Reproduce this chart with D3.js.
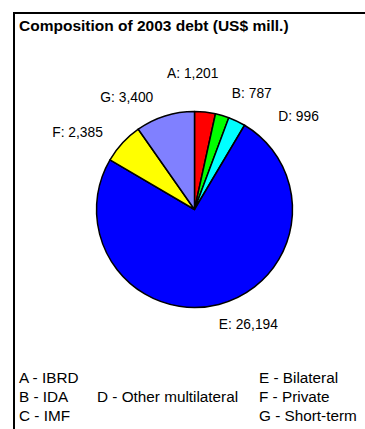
<!DOCTYPE html>
<html>
<head>
<meta charset="utf-8">
<script src="https://cdn.jsdelivr.net/npm/d3@7"></script>
<style>
  html, body { margin: 0; padding: 0; background: #fff; }
  svg { display: block; font-family: Arial, "Liberation Sans", sans-serif; }
</style>
</head>
<body>
<svg id="chart" width="365" height="429"></svg>
<script>
// ---- data ----
const title = "Composition of 2003 debt (US$ mill.)";
const codes = ["A", "B", "C", "D", "E", "F", "G"];
const names = ["IBRD", "IDA", "IMF", "Other multilateral", "Bilateral", "Private", "Short-term"];
const values = [1201, 787, 0, 996, 26194, 2385, 3400];
const colors = ["#FF0000", "#00FF00", "#FF00FF", "#00FFFF", "#0000FF", "#FFFF00", "#8080FF"];

// ---- layout (not data) ----
const W = 365, H = 429;
const cx = 194.5, cy = 209.5, R = 98;
const labelRadius = R + 34;
const labelNudge = [[-16, -5], [20, 10], [0, 0], [47, 26], [21, -13], [-20, 12], [-28, 13]];
const legendCol = [0, 0, 0, 1, 2, 2, 2];
const legendRow = [0, 1, 2, 1, 0, 1, 2];
const legendColX = [19, 97, 259];
const legendRowY = [383, 402, 421];

const svg = d3.select("#chart");
svg.append("rect").attr("width", W).attr("height", H).attr("fill", "#fff");

// frame (top and left edges visible)
svg.append("line").attr("x1", 13).attr("x2", W).attr("y1", 13).attr("y2", 13)
  .attr("stroke", "#000").attr("stroke-width", 2);
svg.append("line").attr("x1", 14).attr("x2", 14).attr("y1", 12).attr("y2", H)
  .attr("stroke", "#000").attr("stroke-width", 2);

svg.append("text").attr("x", 19).attr("y", 31)
  .attr("font-size", 15.5).attr("font-weight", "bold").attr("fill", "#000")
  .text(title);

const data = codes.map((c, i) => ({ code: c, name: names[i], value: values[i], color: colors[i], i }));

const pie = d3.pie().value(d => d.value).sort(null).startAngle(0).endAngle(2 * Math.PI);
const arcs = pie(data);
const arc = d3.arc().innerRadius(0).outerRadius(R);
const labelArc = d3.arc().innerRadius(labelRadius).outerRadius(labelRadius);

const g = svg.append("g").attr("transform", `translate(${cx},${cy})`);
g.selectAll("path.slice").data(arcs.filter(a => a.data.value > 0)).join("path")
  .attr("class", "slice")
  .attr("d", arc)
  .attr("fill", d => d.data.color)
  .attr("stroke", "#000")
  .attr("stroke-width", 1.5)
  .attr("stroke-linejoin", "round");

const fmt = d3.format(",");
g.selectAll("text.lbl").data(arcs.filter(a => a.data.value > 0)).join("text")
  .attr("class", "lbl")
  .attr("x", d => labelArc.centroid(d)[0] + labelNudge[d.data.i][0])
  .attr("y", d => labelArc.centroid(d)[1] + labelNudge[d.data.i][1] + 5)
  .attr("text-anchor", "middle")
  .attr("font-size", 13.8)
  .attr("fill", "#000")
  .text(d => `${d.data.code}: ${fmt(d.data.value)}`);

// legend
svg.selectAll("text.leg").data(data).join("text")
  .attr("class", "leg")
  .attr("x", d => legendColX[legendCol[d.i]])
  .attr("y", d => legendRowY[legendRow[d.i]])
  .attr("font-size", 15.3)
  .attr("fill", "#000")
  .text(d => `${d.code} - ${d.name}`);
</script>
</body>
</html>
